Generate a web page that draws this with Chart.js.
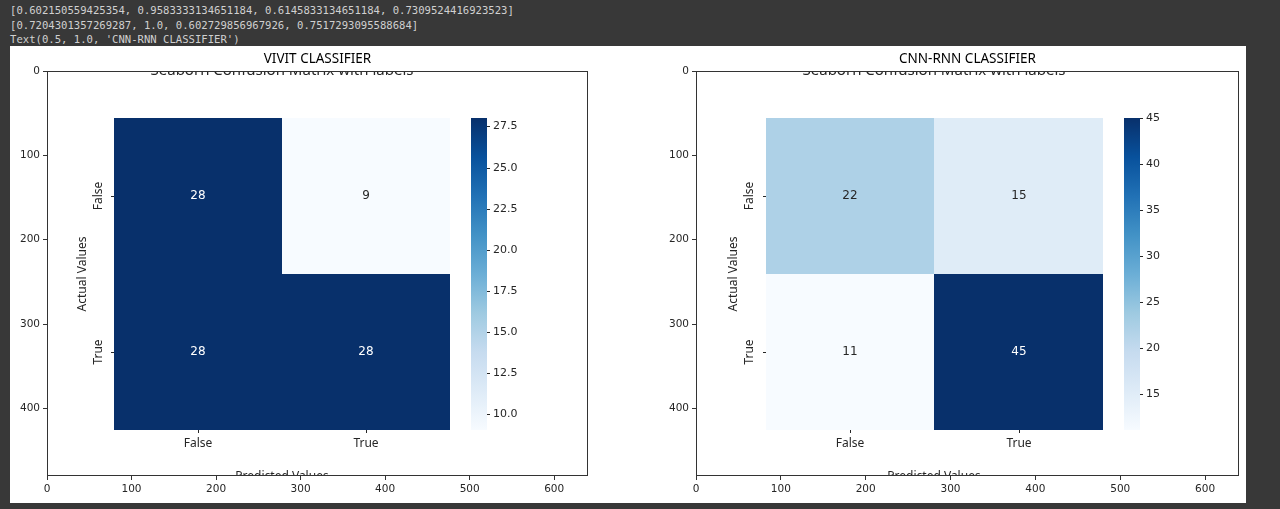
<!DOCTYPE html>
<html lang="en">
<head>
<meta charset="UTF-8">
<title>VIVIT vs CNN-RNN confusion matrices</title>
<script src="https://cdn.jsdelivr.net/npm/chart.js"></script>
<style>
  body {
    margin: 0;
    width: 1280px;
    height: 509px;
    overflow: hidden;
    background: #383838;
    position: relative;
  }
  .out {
    position: absolute;
    left: 10px;
    top: 3px;
    font: 10.6px/14.5px "DejaVu Sans Mono", monospace;
    color: #d0d0d0;
    white-space: pre;
  }
  #fig {
    position: absolute;
    left: 10px;
    top: 46px;
    width: 1236px;
    height: 457px;
    background: #ffffff;
  }
  .panel {
    position: absolute;
    top: 0;
    height: 457px;
  }
</style>
</head>
<body>

<div class="out">[0.602150559425354, 0.9583333134651184, 0.6145833134651184, 0.7309524416923523]
[0.7204301357269287, 1.0, 0.602729856967926, 0.7517293095588684]
Text(0.5, 1.0, 'CNN-RNN CLASSIFIER')</div>

<div id="fig">
  <div class="panel" style="left:0; width:610px;"><canvas id="vivitChart"></canvas></div>
  <div class="panel" style="left:649px; width:587px;"><canvas id="cnnChart"></canvas></div>
</div>

<script>
  // confusion matrix values (rows = actual, cols = predicted)
  const classLabels = ["False", "True"];
  const vivitMatrix = [[28, 9], [28, 28]];
  const cnnRnnMatrix = [[22, 15], [11, 45]];

  // colorbar ticks
  const vivitCbarTicks = [10, 12.5, 15, 17.5, 20, 22.5, 25, 27.5];
  const cnnRnnCbarTicks = [15, 20, 25, 30, 35, 40, 45];

  // outer imshow axes (image pixel coordinates)
  const imageWidth = 640;
  const imageHeight = 480;
  const imageTickStep = 100;

  // matplotlib "Blues"
  const blues = ['#f7fbff', '#deebf7', '#c6dbef', '#9ecae1', '#6baed6', '#4292c6', '#2171b5', '#08519c', '#08306b'];

  function hexToRgb(h) {
    return [parseInt(h.slice(1, 3), 16), parseInt(h.slice(3, 5), 16), parseInt(h.slice(5, 7), 16)];
  }

  function bluesAt(t) {
    t = Math.max(0, Math.min(1, t));
    const pos = t * (blues.length - 1);
    const i = Math.min(Math.floor(pos), blues.length - 2);
    const f = pos - i;
    const a = hexToRgb(blues[i]), b = hexToRgb(blues[i + 1]);
    return a.map((v, k) => Math.round(v + (b[k] - v) * f));
  }

  function luminance(rgb) {
    const c = rgb.map(v => {
      v = v / 255;
      return v <= 0.03928 ? v / 12.92 : Math.pow((v + 0.055) / 1.055, 2.4);
    });
    return 0.2126 * c[0] + 0.7152 * c[1] + 0.0722 * c[2];
  }

  const TEXT = '#262626';
  const WORD_FONT = '"Noto Sans", sans-serif';
  const NUM_FONT = '"DejaVu Sans", sans-serif';

  // draws the seaborn figure that sits inside each imshow axes
  function makeConfusionPlugin(panel) {
    return {
      id: 'confusion',
      afterDraw(chart) {
        const { ctx, chartArea: a } = chart;
        const xs = chart.scales.x, ys = chart.scales.y;
        const X = v => Math.round(xs.getPixelForValue(v + panel.dx));
        const Y = v => Math.round(ys.getPixelForValue(v));
        const m = panel.matrix;
        const flat = m.flat();
        const vmin = Math.min(...flat), vmax = Math.max(...flat);
        const n = classLabels.length;
        const L = { hmX0: 79, hmX1: 477, hmY0: 56, hmY1: 426, cbX0: 502, cbX1: 520 };
        const colX = i => L.hmX0 + (L.hmX1 - L.hmX0) * i / n;
        const rowY = i => L.hmY0 + (L.hmY1 - L.hmY0) * i / n;

        ctx.save();
        ctx.beginPath();
        ctx.rect(a.left, a.top, a.right - a.left, a.bottom - a.top);
        ctx.clip();

        // cells + annotations
        ctx.textAlign = 'center';
        ctx.textBaseline = 'middle';
        for (let r = 0; r < n; r++) {
          for (let c = 0; c < n; c++) {
            const v = m[r][c];
            const rgb = bluesAt((v - vmin) / (vmax - vmin));
            ctx.fillStyle = `rgb(${rgb.join(',')})`;
            const x0 = X(colX(c)), x1 = X(colX(c + 1));
            const y0 = Y(rowY(r)), y1 = Y(rowY(r + 1));
            ctx.fillRect(x0, y0, x1 - x0, y1 - y0);
          }
        }
        for (let r = 0; r < n; r++) {
          for (let c = 0; c < n; c++) {
            const v = m[r][c];
            const rgb = bluesAt((v - vmin) / (vmax - vmin));
            ctx.fillStyle = luminance(rgb) > 0.408 ? TEXT : '#ffffff';
            ctx.font = '12px ' + NUM_FONT;
            ctx.fillText(String(v), X((colX(c) + colX(c + 1)) / 2), Y((rowY(r) + rowY(r + 1)) / 2));
          }
        }

        // heatmap tick labels
        ctx.strokeStyle = TEXT;
        ctx.lineWidth = 1;
        ctx.fillStyle = TEXT;
        ctx.font = '12px ' + WORD_FONT;
        for (let i = 0; i < n; i++) {
          const cx = X((colX(i) + colX(i + 1)) / 2);
          ctx.beginPath();
          ctx.moveTo(cx + 0.5, Y(L.hmY1));
          ctx.lineTo(cx + 0.5, Y(L.hmY1) + 3);
          ctx.stroke();
          ctx.fillText(classLabels[i], cx, Y(442));

          const cy = Y((rowY(i) + rowY(i + 1)) / 2);
          ctx.beginPath();
          ctx.moveTo(X(L.hmX0) - 3, cy + 0.5);
          ctx.lineTo(X(L.hmX0), cy + 0.5);
          ctx.stroke();
          ctx.save();
          ctx.translate(X(61), cy);
          ctx.rotate(-Math.PI / 2);
          ctx.fillText(classLabels[i], 0, 0);
          ctx.restore();
        }

        // heatmap axis labels and its (cropped) title
        ctx.save();
        ctx.translate(X(42), Y((L.hmY0 + L.hmY1) / 2));
        ctx.rotate(-Math.PI / 2);
        ctx.fillText('Actual Values', 0, 0);
        ctx.restore();
        ctx.fillText('Predicted Values', X((L.hmX0 + L.hmX1) / 2), Y(481));
        ctx.font = '15px ' + WORD_FONT;
        ctx.fillText('Seaborn Confusion Matrix with labels', X((L.hmX0 + L.hmX1) / 2), Y(0));

        // colorbar
        const g = ctx.createLinearGradient(0, Y(L.hmY1), 0, Y(L.hmY0));
        blues.forEach((col, i) => g.addColorStop(i / (blues.length - 1), col));
        ctx.fillStyle = g;
        ctx.fillRect(X(L.cbX0), Y(L.hmY0), X(L.cbX1) - X(L.cbX0), Y(L.hmY1) - Y(L.hmY0));
        const cbY = v => Math.round(ys.getPixelForValue(L.hmY1 - (L.hmY1 - L.hmY0) * (v - vmin) / (vmax - vmin)));
        ctx.fillStyle = TEXT;
        ctx.font = '11px ' + NUM_FONT;
        ctx.textAlign = 'left';
        panel.cbarTicks.forEach(t => {
          const ty = cbY(t) + 0.5;
          ctx.beginPath();
          ctx.moveTo(X(L.cbX1), ty);
          ctx.lineTo(X(L.cbX1) + 3, ty);
          ctx.stroke();
          ctx.fillText(panel.cbarFmt(t), X(L.cbX1) + 6, ty);
        });
        ctx.restore();

        // spines
        ctx.save();
        ctx.strokeStyle = '#333333';
        ctx.lineWidth = 1;
        ctx.strokeRect(Math.round(a.left) + 0.5, Math.round(a.top) + 0.5,
          Math.round(a.right - a.left) - 1, Math.round(a.bottom - a.top) - 1);

        // axes title
        ctx.fillStyle = '#000000';
        ctx.font = '13.5px ' + WORD_FONT;
        ctx.textAlign = 'center';
        ctx.textBaseline = 'middle';
        ctx.fillText(panel.title, (a.left + a.right) / 2, a.top - 12);
        ctx.restore();
      }
    };
  }

  function makeChart(canvasId, panel) {
    const keepRound = s => { s.ticks = s.ticks.filter(t => t.value % imageTickStep === 0); };
    const tickFont = { family: NUM_FONT, size: 10.5 };
    return new Chart(document.getElementById(canvasId), {
      type: 'scatter',
      data: { datasets: [] },
      options: {
        animation: false,
        responsive: true,
        maintainAspectRatio: false,
        layout: { padding: { top: 25, right: panel.padRight, bottom: 0, left: 0 } },
        plugins: {
          legend: { display: false },
          tooltip: { enabled: false }
        },
        scales: {
          x: {
            type: 'linear',
            min: 0,
            max: imageWidth,
            ticks: { stepSize: imageTickStep, color: TEXT, font: tickFont, padding: 3, maxRotation: 0 },
            grid: { drawOnChartArea: false, tickLength: 4, color: '#333333' },
            border: { display: false },
            afterBuildTicks: keepRound,
            afterFit: s => { s.height = 27; }
          },
          y: {
            type: 'linear',
            reverse: true,
            min: 0,
            max: imageHeight,
            ticks: { stepSize: imageTickStep, color: TEXT, font: tickFont, padding: 3 },
            grid: { drawOnChartArea: false, tickLength: 4, color: '#333333' },
            border: { display: false },
            afterBuildTicks: keepRound,
            afterFit: s => { s.width = 37; }
          }
        }
      },
      plugins: [makeConfusionPlugin(panel)]
    });
  }

  makeChart('vivitChart', {
    title: 'VIVIT CLASSIFIER',
    matrix: vivitMatrix,
    cbarTicks: vivitCbarTicks,
    cbarFmt: v => v.toFixed(1),
    dx: 0,
    padRight: 32
  });

  makeChart('cnnChart', {
    title: 'CNN-RNN CLASSIFIER',
    matrix: cnnRnnMatrix,
    cbarTicks: cnnRnnCbarTicks,
    cbarFmt: v => String(v),
    dx: 3,
    padRight: 7
  });
</script>
</body>
</html>
